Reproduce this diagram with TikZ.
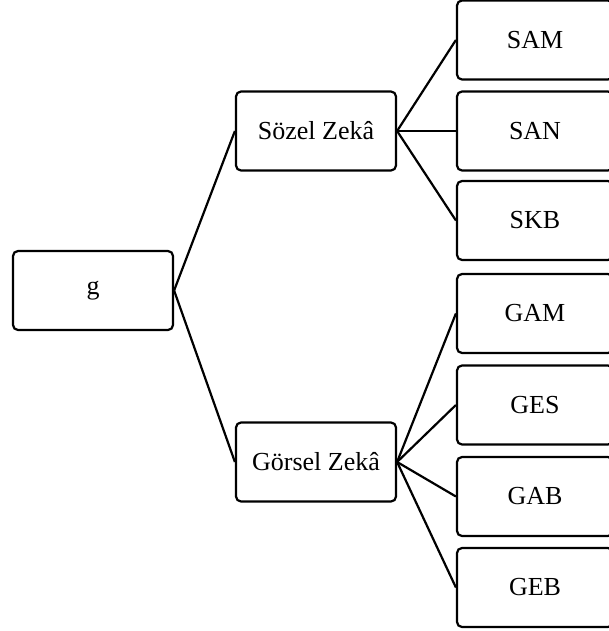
\documentclass[tikz,border=0pt]{standalone}
\usepackage{fontspec}
\setmainfont{Liberation Serif}
\usepackage{tikz}

\begin{document}
\begin{tikzpicture}[x=0.5pt, y=-0.5pt, line width=1.1pt,
    box/.style={draw, rounded corners=2.5pt, inner sep=0pt, align=center,
      minimum width=80pt, minimum height=39.5pt, font=\fontsize{13}{15}\selectfont},
    leaf/.style={box, minimum width=78pt}]
    \clip (0, 0) rectangle (609, 631);

    % root
    \node[box] (g) at (93, 290.5) {g};

    % second level
    \node[box] (sozel) at (316, 131) {Sözel Zekâ};
    \node[box] (gorsel) at (316, 462) {Görsel Zekâ};

    % leaves
    \node[leaf] (sam) at (535, 40) {SAM};
    \node[leaf] (san) at (535, 131) {SAN};
    \node[leaf] (skb) at (535, 220.5) {SKB};
    \node[leaf] (gam) at (535, 313.5) {GAM};
    \node[leaf] (ges) at (535, 405) {GES};
    \node[leaf] (gab) at (535, 496.5) {GAB};
    \node[leaf] (geb) at (535, 587.5) {GEB};

    % links
    \draw (g.east) -- (sozel.west);
    \draw (g.east) -- (gorsel.west);
    \foreach \n in {sam, san, skb}
      \draw (sozel.east) -- (\n.west);
    \foreach \n in {gam, ges, gab, geb}
      \draw (gorsel.east) -- (\n.west);
  \end{tikzpicture}
\end{document}
